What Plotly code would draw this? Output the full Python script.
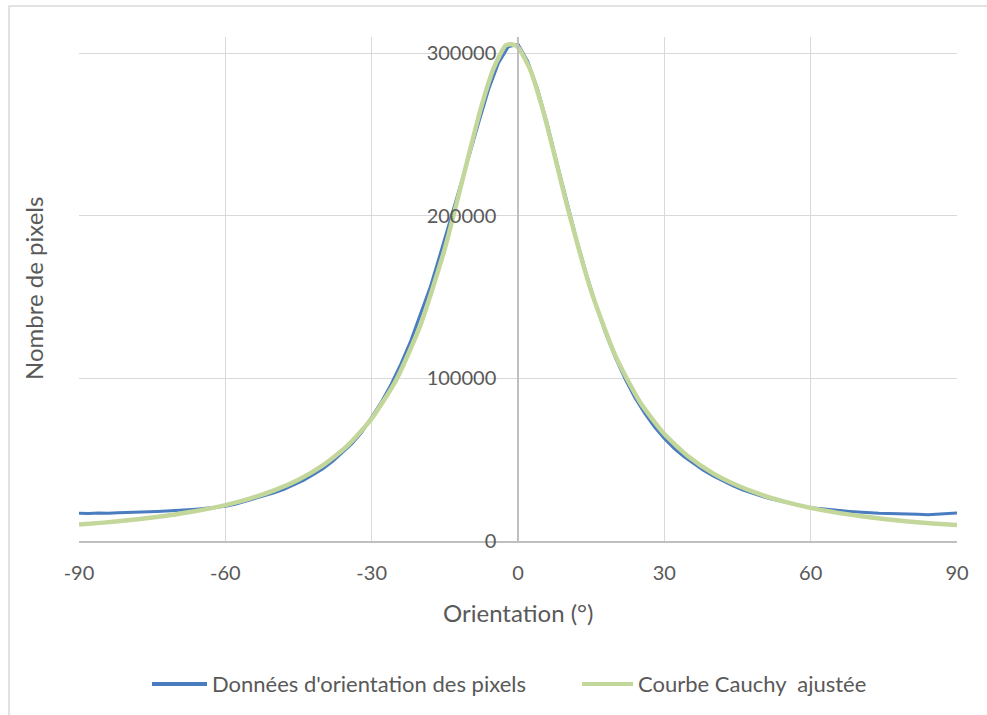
import plotly.graph_objects as go

# Orientation angles (degrees) for the measured histogram, 2-degree bins
angles_data = list(range(-90, 91, 2))
# Pixel counts per orientation bin
pixel_counts = [
    17100, 16900, 17200, 17000, 17300, 17400, 17600, 17800, 18100, 18400,   # -90 .. -72
    18700, 19100, 19600, 20100, 20700, 21300, 22600, 24300, 25900, 27600,   # -70 .. -52
    29600, 31800, 34500, 37300, 40800, 44500, 49000, 54200, 60000, 67000,   # -50 .. -32
    76400, 85500, 96500, 109000, 123000, 139000, 156000, 176000, 196000, 216000,  # -30 .. -12
    237000, 258000, 278000, 294000, 304000, 305500, 295000, 278000, 256500, 232500,  # -10 .. 8
    208500, 185500, 164500, 145000, 127500, 112500, 99500, 88000, 78500, 70000,  # 10 .. 28
    63000, 57000, 52000, 47500, 43500, 40000, 36800, 34000, 31500, 29400,   # 30 .. 48
    27500, 25800, 24300, 22900, 21600, 20400, 19700, 19200, 18700, 18200,   # 50 .. 68
    17700, 17400, 17100, 16900, 16600, 16400, 16400, 16200, 16400, 16600,   # 70 .. 88
    17200,                                                                  # 90
]

# Fitted Cauchy curve, sampled at these angles
angles_fit = [-90, -85, -80, -75, -70, -65, -60, -55, -50, -45, -40, -35, -30, -25,
              -20, -15, -10, -7.5, -5, -2.5, -1.3, 0, 2.5, 5, 7.5, 10, 15, 20, 25,
              30, 35, 40, 45, 50, 55, 60, 65, 70, 75, 80, 85, 90]
fit_counts = [10100, 11300, 12700, 14400, 16500, 19000, 22100, 26100, 31100, 37700,
              46500, 58500, 75300, 98900, 132800, 179900, 238500, 267300, 290700,
              304900, 305500, 303600, 289900, 266200, 237200, 207100, 153700, 113700,
              85500, 65800, 51800, 41600, 34100, 28300, 23900, 20400, 17600, 15400,
              13500, 12000, 10800, 9800]

x_ticks = [-90, -60, -30, 0, 30, 60, 90]
x_tick_labels = ["-90", "-60", "-30", "0", "30", "60", "90"]
y_ticks = [0, 100000, 200000, 300000]
y_tick_labels = ["0", "100000", "200000", "300000"]

series_names = ["Données d'orientation des pixels", "Courbe Cauchy  ajustée"]
series_colors = ["#4A7CC0", "#C3D79B"]

TEXT = "#595959"
FONT = "Lato"

W, H = 987, 715
L, R, T, B = 79, 30, 37, 174
PW, PH = W - L - R, H - T - B


def px(x):
    return (x - L) / PW


def py(y):
    return (H - B - y) / PH


fig = go.Figure()
fig.add_trace(go.Scatter(x=angles_data, y=pixel_counts, mode="lines",
                         name=series_names[0],
                         line=dict(color=series_colors[0], width=3)))
fig.add_trace(go.Scatter(x=angles_fit, y=fit_counts, mode="lines",
                         name=series_names[1],
                         line=dict(color=series_colors[1], width=4.5, shape="spline",
                                   smoothing=0.6)))

fig.update_layout(
    width=W, height=H,
    margin=dict(l=L, r=R, t=T, b=B),
    paper_bgcolor="white", plot_bgcolor="white",
    showlegend=False,
    font=dict(family=FONT, size=20, color=TEXT),
    xaxis=dict(range=[-90, 90], tickvals=x_ticks, ticktext=x_tick_labels,
               showgrid=True, gridcolor="#D9D9D9",
               gridwidth=1, zeroline=False, showline=True, linecolor="#BFBFBF",
               linewidth=1.5, ticks="", ticklabelstandoff=13,
               tickfont=dict(family=FONT, size=20, color=TEXT)),
    yaxis=dict(range=[0, 310000], tickvals=y_ticks, ticktext=y_tick_labels,
               showgrid=True, gridcolor="#D9D9D9",
               gridwidth=1, zeroline=False, showline=True, linecolor="#BFBFBF",
               linewidth=1.5, anchor="free", position=0.5, side="left", ticks="",
               ticklabelstandoff=17,
               tickfont=dict(family=FONT, size=20, color=TEXT)),
)

# chart frame
fig.add_shape(type="rect", xref="paper", yref="paper",
              x0=px(9), x1=px(1000), y0=py(730), y1=py(6),
              line=dict(color="#D9D9D9", width=1.5), fillcolor="rgba(0,0,0,0)",
              layer="below")

# axis titles
fig.add_annotation(xref="paper", yref="paper", x=0.5, y=py(612), text="Orientation (°)",
                   showarrow=False, font=dict(family=FONT, size=24, color=TEXT),
                   xanchor="center", yanchor="middle")
fig.add_annotation(xref="paper", yref="paper", x=px(33), y=0.5, text="Nombre de pixels",
                   textangle=-90, showarrow=False,
                   font=dict(family=FONT, size=24, color=TEXT),
                   xanchor="center", yanchor="middle")

# legend
legend_items = [(152, 207, 210), (582, 633, 636)]
for (lx0, lx1, tx), name, color in zip(legend_items, series_names, series_colors):
    fig.add_shape(type="line", xref="paper", yref="paper",
                  x0=px(lx0), x1=px(lx1), y0=py(684), y1=py(684),
                  line=dict(color=color, width=4))
    fig.add_annotation(xref="paper", yref="paper", x=px(tx), y=py(684), text=name,
                       showarrow=False, xanchor="left", yanchor="middle",
                       font=dict(family=FONT, size=22, color=TEXT))

fig.write_html("out.html")
